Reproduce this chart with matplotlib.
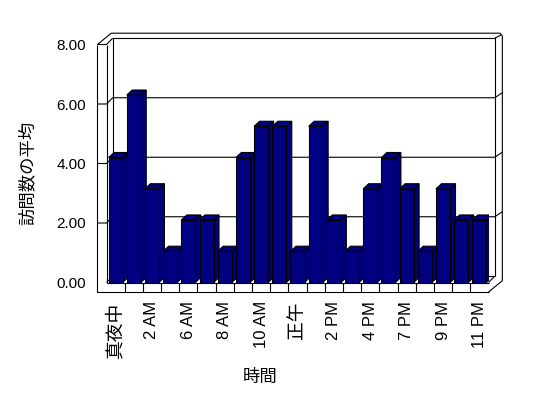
import numpy as np
import matplotlib.pyplot as plt
from matplotlib.patches import Polygon

# hourly categories (only every other one is labelled in the chart)
hours = ['真夜中', '1 AM', '2 AM', '5 AM', '6 AM', '7 AM', '8 AM', '9 AM',
         '10 AM', '11 AM', '正午', '1 PM', '2 PM', '3 PM', '4 PM', '6 PM',
         '7 PM', '8 PM', '9 PM', '10 PM', '11 PM']
avg_visits = [4.2, 6.3, 3.15, 1.05, 2.1, 2.1, 1.05, 4.2, 5.25, 5.25, 1.05,
              5.25, 2.1, 1.05, 3.15, 4.2, 3.15, 1.05, 3.15, 2.1, 2.1]
y_ticks = [0, 2, 4, 6, 8]

W, H = 548, 398
fig = plt.figure(figsize=(W / 100, H / 100), dpi=100)
ax = fig.add_axes([106.5 / W, 115.5 / H, 382 / W, 238 / H])
n = len(hours)
ymax = y_ticks[-1]
ax.set_xlim(0, n)
ax.set_ylim(0, ymax)
ax.set_frame_on(False)

# fake 3D depth, in data units
DX, DY = 0.34, 0.21      # front plane -> back wall
OX, OY = 0.76, 0.38      # outer edge of the wall slabs
WALL, FLOOR = 0.5, 0.32  # slab thickness seen from the front
BDX, BDY = 0.3, 0.17     # bar depth
BW = 0.77                # bar width
navy = '#000080'


def line(xs, ys, z=1):
    ax.plot(xs, ys, color='black', lw=0.8, clip_on=False,
            solid_capstyle='butt', zorder=z)


# back wall + gridlines
line([DX, DX, n + DX, n + DX], [DY, ymax + DY, ymax + DY, DY])
for v in y_ticks[1:-1]:
    line([-WALL, 0, DX, n + DX, n + OX], [v, v, v + DY, v + DY, v + OY])

# floor
line([0, n], [0, 0])
line([DX, n + DX], [DY, DY])
line([0, DX], [0, DY])
line([n, n + DX], [0, DY])
for k in range(1, n):
    line([k, k], [-FLOOR, 0])

# left slab and outer outline
line([0, 0], [0, ymax])
line([-WALL, 0, DX], [ymax, ymax, ymax + DY])
line([-WALL, -WALL, n], [ymax, -FLOOR, -FLOOR])
line([-WALL, -WALL + OX, n + OX - 0.12, n + OX, n + OX, n],
     [ymax, ymax + OY, ymax + OY, ymax + OY - 0.1, -FLOOR + OY, -FLOOR])
line([n + DX, n + OX - 0.05], [ymax + DY, ymax + OY - 0.05])

# bars
for i, v in enumerate(avg_visits):
    x0 = i + (1 - BW) / 2
    x1 = x0 + BW
    side = Polygon([(x1, 0), (x1 + BDX, BDY), (x1 + BDX, v + BDY), (x1, v)],
                   closed=True, facecolor=navy, edgecolor='black', lw=0.8,
                   zorder=2)
    top = Polygon([(x0, v), (x0 + BDX, v + BDY), (x1 + BDX, v + BDY), (x1, v)],
                  closed=True, facecolor=navy, edgecolor='black', lw=0.8,
                  zorder=2)
    ax.add_patch(side)
    ax.add_patch(top)
    ax.bar([i + 0.5], [v], width=BW, color=navy, edgecolor='black',
           lw=0.8, zorder=2)

lat = ['Liberation Sans', 'Noto Sans CJK JP']
idx = np.arange(0, n, 2)
ax.set_xticks(idx + 0.5, [hours[i] for i in idx])
ax.set_yticks(y_ticks, [f'{v:.2f}' for v in y_ticks])
ax.tick_params(axis='x', length=0, pad=13.5, labelrotation=90)
ax.tick_params(axis='y', length=0, pad=14.8)
for lab in ax.get_yticklabels():
    lab.set_family(lat)
    lab.set_fontsize(11)
for lab in ax.get_xticklabels():
    lab.set_family(lat)
    lab.set_fontsize(12)
    if lab.get_text() in ('真夜中', '正午'):
        lab.set_fontsize(13.5)

fig.text(27.7 / W, 1 - 173 / H, '訪問数の平均', rotation=90, ha='center',
         va='center', fontsize=12.5, family=['Noto Sans CJK JP'])
fig.text(260 / W, 1 - 377 / H, '時間', ha='center', va='center',
         fontsize=12.5, family=['Noto Sans CJK JP'])

fig.savefig('out.png', dpi=100, facecolor='white')
